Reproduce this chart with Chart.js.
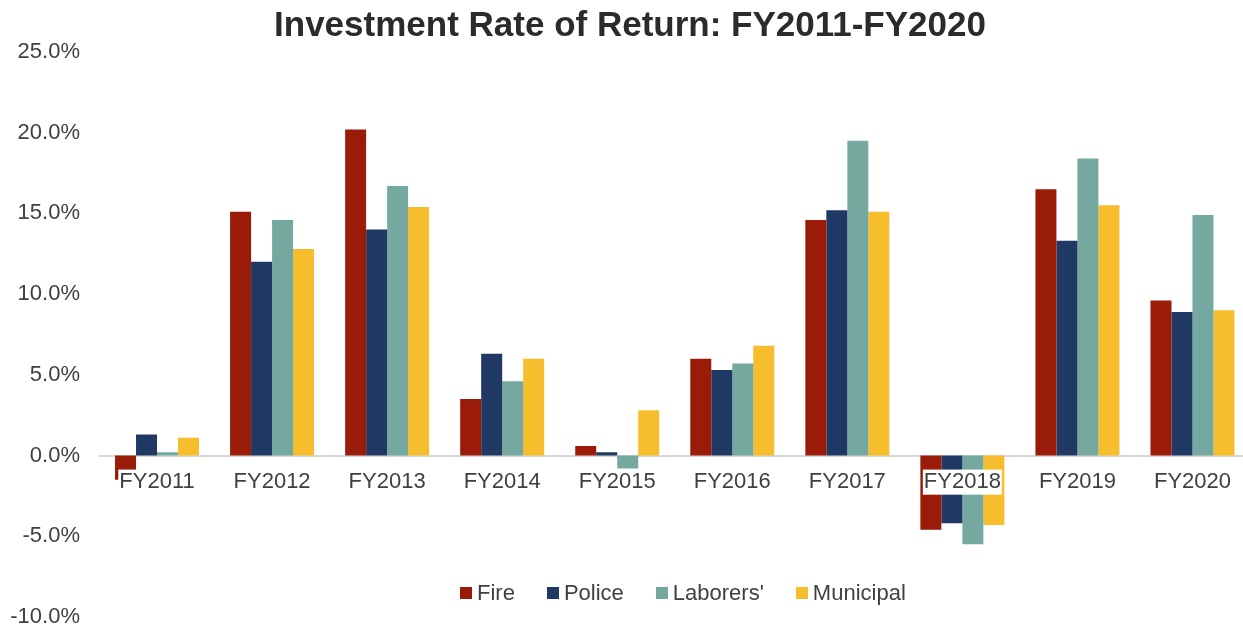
<!DOCTYPE html>
<html>
<head>
<meta charset="utf-8">
<script src="https://cdn.jsdelivr.net/npm/chart.js@4/dist/chart.umd.min.js"></script>
<style>
  html, body { margin: 0; padding: 0; background: #fff; overflow: hidden; }
  #wrap { position: relative; width: 1250px; height: 627px; }
  #legend {
    position: absolute; left: 460px; top: 581px;
    display: flex; align-items: center;
    font-family: "Liberation Sans", Arial, sans-serif; font-size: 22px; color: #404040;
    line-height: 24px; white-space: nowrap;
  }
  #legend .item { display: flex; align-items: center; margin-right: 32px; }
  #legend .box { width: 12px; height: 12px; margin-right: 5px; }
</style>
</head>
<body>
<div id="wrap">
  <canvas id="returns"></canvas>
  <div id="legend"></div>
</div>
<script>
// Data (percent)
const years = ['FY2011', 'FY2012', 'FY2013', 'FY2014', 'FY2015', 'FY2016', 'FY2017', 'FY2018', 'FY2019', 'FY2020'];
const fire      = [-1.5, 15.1, 20.2, 3.5, 0.6, 6.0, 14.6, -4.6, 16.5, 9.6];
const police    = [ 1.3, 12.0, 14.0, 6.3, 0.2, 5.3, 15.2, -4.2, 13.3, 8.9];
const laborers  = [ 0.2, 14.6, 16.7, 4.6, -0.8, 5.7, 19.5, -5.5, 18.4, 14.9];
const municipal = [ 1.1, 12.8, 15.4, 6.0, 2.8, 6.8, 15.1, -4.3, 15.5, 9.0];

const seriesNames  = ['Fire', 'Police', "Laborers'", 'Municipal'];
const seriesValues = [fire, police, laborers, municipal];
const seriesColors = ['#991b08', '#1f3864', '#75a99f', '#f6bd2d'];

const fontFamily = '"Liberation Sans", Arial, sans-serif';
const textColor = '#404040';

new Chart(document.getElementById('returns'), {
    type: 'bar',
    data: {
        labels: years,
        datasets: seriesNames.map((name, i) => ({
            label: name,
            data: seriesValues[i],
            backgroundColor: seriesColors[i],
            borderWidth: 0,
            barPercentage: 1,
            categoryPercentage: 0.73
        }))
    },
    options: {
        responsive: true,
        maintainAspectRatio: false,
        animation: false,
        layout: { padding: { left: 10, right: 0, top: 0, bottom: 10 } },
        scales: {
            x: {
                position: { y: 0 },
                grid: { display: false, drawTicks: false },
                border: { display: true, color: '#d9d9d9', width: 2 },
                afterFit: s => { s.height = 0; },
                ticks: {
                    color: textColor,
                    font: { family: fontFamily, size: 22, lineHeight: 1.05 },
                    padding: 15,
                    maxRotation: 0,
                    autoSkip: false,
                    z: 1,
                    showLabelBackdrop: true,
                    backdropColor: '#ffffff',
                    backdropPadding: 1
                }
            },
            y: {
                min: -10,
                max: 25,
                grid: { display: false, drawTicks: false },
                border: { display: false },
                // fixed axis width; tick padding should not push the plot edges in
                afterFit: s => { s.width = 89.5; s.paddingTop = 0; s.paddingBottom = 0; },
                ticks: {
                    stepSize: 5,
                    color: textColor,
                    font: { family: fontFamily, size: 22, lineHeight: 0.8 },
                    padding: 19.5,
                    callback: v => v.toFixed(1) + '%'
                }
            }
        },
        plugins: {
            legend: { display: false },
            tooltip: { enabled: false },
            title: {
                display: true,
                text: 'Investment Rate of Return: FY2011-FY2020',
                color: '#2b2b2b',
                font: { family: fontFamily, size: 35, weight: 'bold', lineHeight: 1.2 },
                padding: { top: 5, bottom: 5 }
            }
        }
    }
});

// Legend built from the same series lists
const legendEl = document.getElementById('legend');
seriesNames.forEach((name, i) => {
    const item = document.createElement('div');
    item.className = 'item';
    const box = document.createElement('span');
    box.className = 'box';
    box.style.background = seriesColors[i];
    const txt = document.createElement('span');
    txt.textContent = name;
    item.appendChild(box);
    item.appendChild(txt);
    legendEl.appendChild(item);
});
</script>
</body>
</html>
